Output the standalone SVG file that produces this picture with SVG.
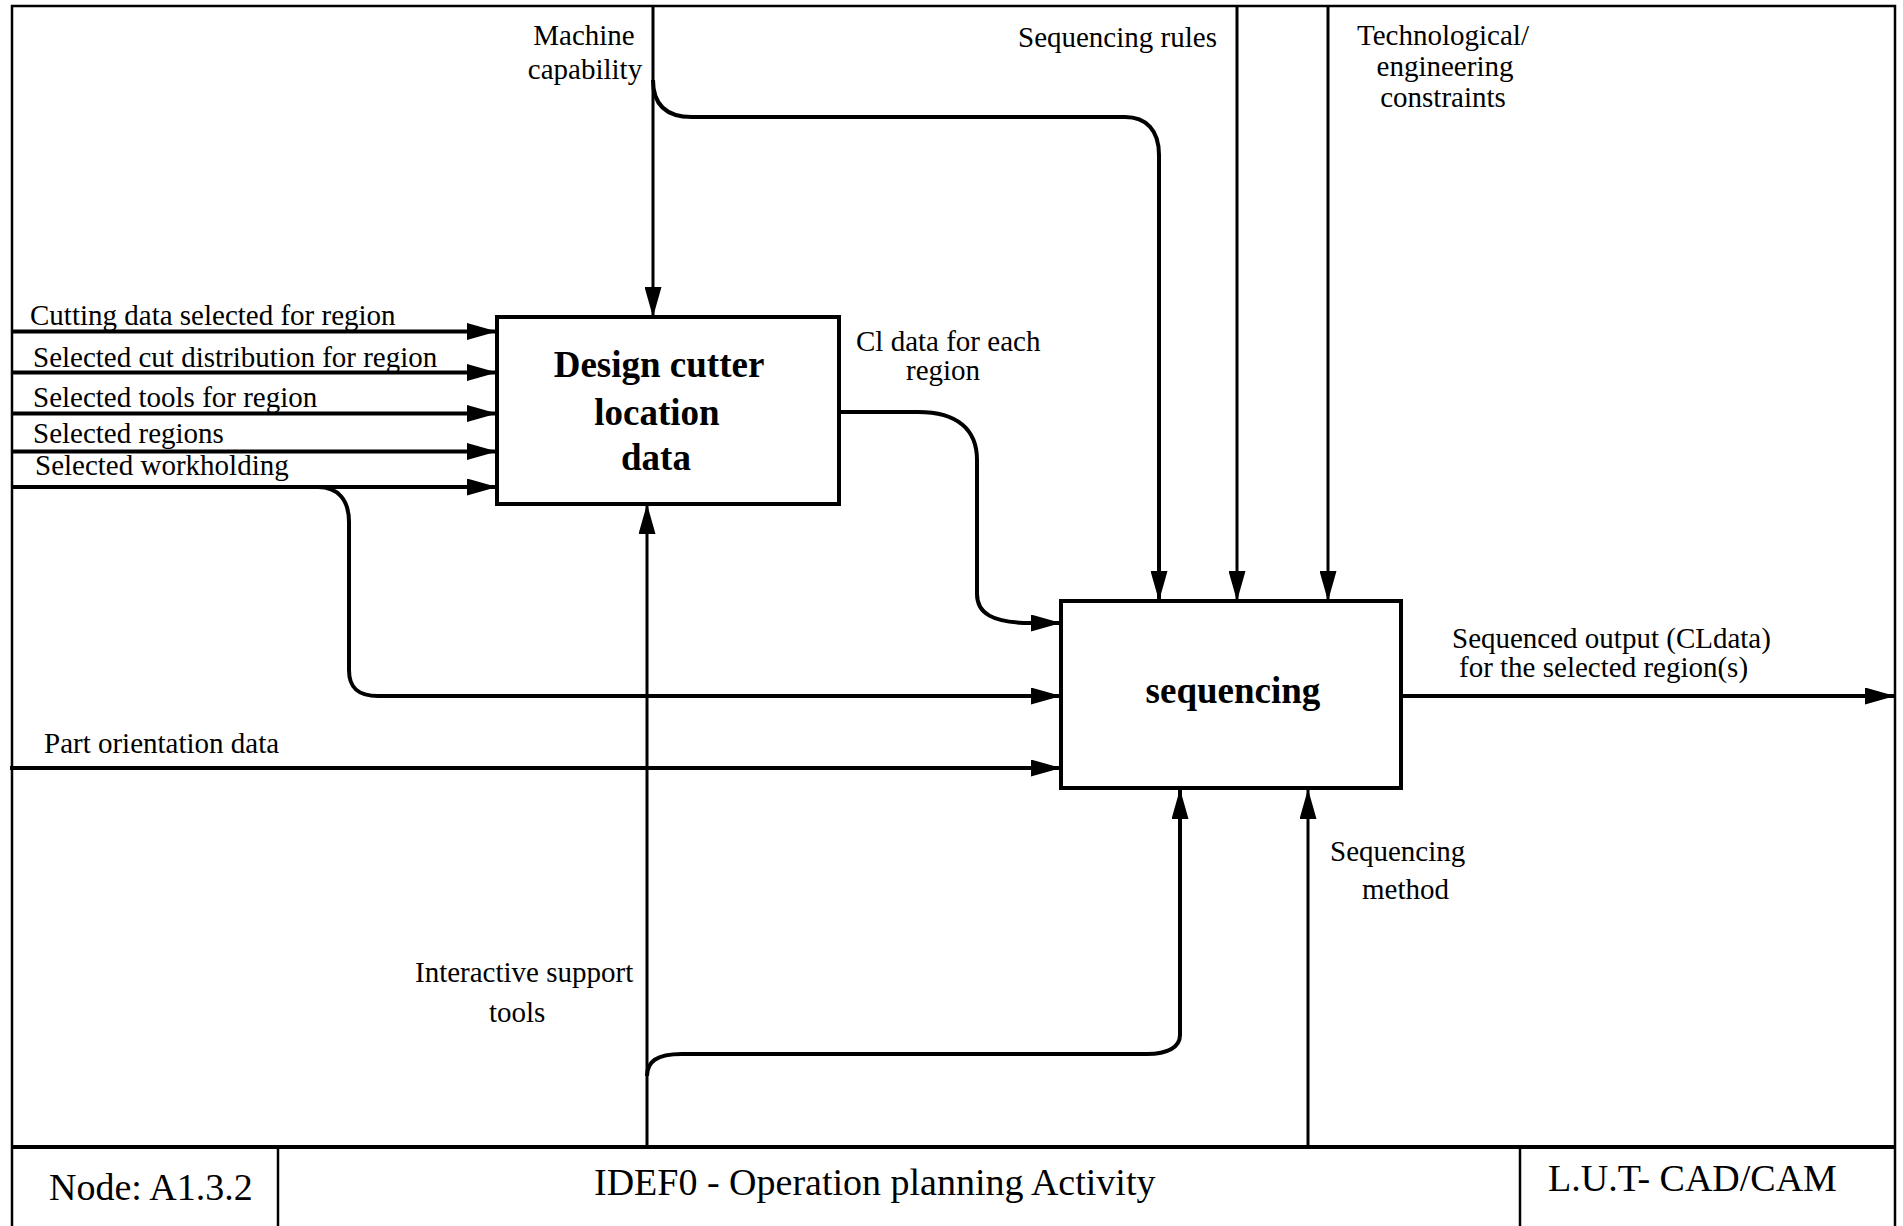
<svg xmlns="http://www.w3.org/2000/svg" width="1903" height="1226" viewBox="0 0 1903 1226">
  <style>
    .frame { fill: none; stroke: #000; stroke-width: 2.5; }
    .box { fill: #fff; stroke: #000; stroke-width: 4; }
    .flow { fill: none; stroke: #000; stroke-width: 3; }
    .heavy { stroke-width: 4; }
    .arrowed { marker-end: url(#arrow); }
    .lbl { font-family: "Liberation Serif", "Times New Roman", serif; font-size: 29px; fill: #000; }
    .title { font-family: "Liberation Serif", "Times New Roman", serif; font-size: 37px; font-weight: bold; fill: #000; text-anchor: middle; }
    .foot { font-family: "Liberation Serif", "Times New Roman", serif; font-size: 38px; fill: #000; }
    .mid { text-anchor: middle; }
  </style>
  <defs>
    <marker id="arrow" markerUnits="userSpaceOnUse" viewBox="0 0 30 17" markerWidth="30" markerHeight="17" refX="30" refY="8.5" orient="auto">
      <path d="M0,0 L30,8.5 L0,17 Z" fill="#000"/>
    </marker>
  </defs>

  <rect width="1903" height="1226" fill="#fff"/>

  <!-- sheet frame and title block -->
  <g id="frame">
    <rect class="frame" x="12" y="6" width="1883" height="1240"/>
    <line x1="12" y1="1147" x2="1895" y2="1147" stroke="#000" stroke-width="4"/>
    <line x1="278" y1="1147" x2="278" y2="1226" stroke="#000" stroke-width="2.5"/>
    <line x1="1520" y1="1147" x2="1520" y2="1226" stroke="#000" stroke-width="2.5"/>
    <text class="foot" x="49" y="1200">Node: A1.3.2</text>
    <text class="foot" x="594" y="1195">IDEF0 - Operation planning Activity</text>
    <text class="foot" x="1548" y="1191" font-size="35.5">L.U.T- CAD/CAM</text>
  </g>

  <!-- arrows between boundary and activities -->
  <g id="connectors">
    <!-- controls from the top -->
    <path class="flow arrowed" d="M653,6 V317"/>
    <path class="flow heavy arrowed" d="M653,80 C653,104 665,117 692,117 H1125 C1146,117 1159,130 1159,155 V601"/>
    <path class="flow arrowed" d="M1237,6 V601"/>
    <path class="flow arrowed" d="M1328,6 V601"/>

    <!-- inputs from the left -->
    <path class="flow heavy arrowed" d="M12,331.5 H497"/>
    <path class="flow heavy arrowed" d="M12,372.5 H497"/>
    <path class="flow heavy arrowed" d="M12,413.5 H497"/>
    <path class="flow heavy arrowed" d="M12,451.5 H497"/>
    <path class="flow heavy arrowed" d="M12,487 H497"/>
    <path class="flow heavy arrowed" d="M318,487 C338,487 349,500 349,522 V670 C349,688 358,696 378,696 H1061"/>
    <path class="flow heavy arrowed" d="M10,768 H1061"/>

    <!-- CL data from first activity to sequencing -->
    <path class="flow heavy arrowed" d="M839,412 H918 C958,412 977,430 977,460 V594 C977,613 992,623 1031,623 H1061"/>

    <!-- mechanisms from the bottom -->
    <path class="flow arrowed" d="M647,1147 V504"/>
    <path class="flow heavy arrowed" d="M647,1076 C647,1062 656,1054 682,1054 H1147 C1168,1054 1180,1047 1180,1035 V789"/>
    <path class="flow arrowed" d="M1308,1147 V789"/>

    <!-- output to the right -->
    <path class="flow heavy arrowed" d="M1401,696 H1895"/>
  </g>

  <!-- activity boxes -->
  <g id="design-cutter-location-data">
    <rect class="box" x="497" y="317" width="342" height="187"/>
    <text class="title" x="659" y="377">Design cutter</text>
    <text class="title" x="657" y="425">location</text>
    <text class="title" x="656" y="470">data</text>
  </g>

  <g id="sequencing">
    <rect class="box" x="1061" y="601" width="340" height="187"/>
    <text class="title" x="1233" y="703">sequencing</text>
  </g>

  <!-- arrow labels -->
  <g id="labels">
    <text class="lbl mid" x="584" y="45">Machine</text>
    <text class="lbl mid" x="585" y="79">capability</text>
    <text class="lbl" x="1018" y="47">Sequencing rules</text>
    <text class="lbl mid" x="1443" y="45">Technological/</text>
    <text class="lbl mid" x="1445" y="76">engineering</text>
    <text class="lbl mid" x="1443" y="107">constraints</text>

    <text class="lbl" x="30" y="325">Cutting data selected for region</text>
    <text class="lbl" x="33" y="366.5">Selected cut distribution for region</text>
    <text class="lbl" x="33" y="406.5">Selected tools for region</text>
    <text class="lbl" x="33" y="443">Selected regions</text>
    <text class="lbl" x="35" y="475">Selected workholding</text>
    <text class="lbl" x="44" y="753">Part orientation data</text>

    <text class="lbl" x="856" y="351">Cl data for each</text>
    <text class="lbl" x="906" y="380">region</text>

    <text class="lbl" x="1452" y="648">Sequenced output (CLdata)</text>
    <text class="lbl" x="1459" y="677">for the selected region(s)</text>

    <text class="lbl" x="415" y="982">Interactive support</text>
    <text class="lbl" x="489" y="1022">tools</text>
    <text class="lbl" x="1330" y="861">Sequencing</text>
    <text class="lbl" x="1362" y="899">method</text>
  </g>
</svg>
